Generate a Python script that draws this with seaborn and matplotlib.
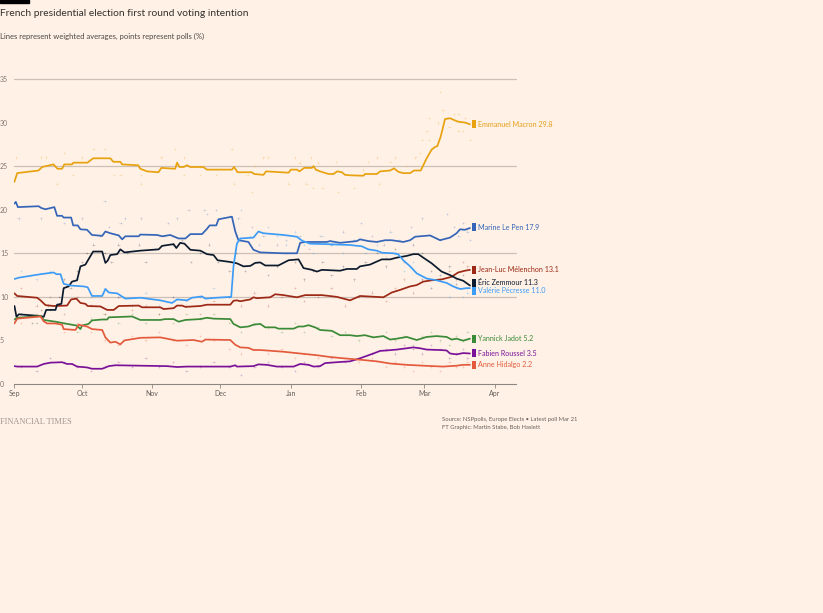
import numpy as np
import pandas as pd
import matplotlib
matplotlib.use("Agg")
import matplotlib.pyplot as plt
import matplotlib.transforms as mtransforms
from matplotlib.patches import Rectangle
import seaborn as sns

# ---------------- data ----------------
START = pd.Timestamp("2021-09-01")  # day 0

candidates = ["Emmanuel Macron", "Marine Le Pen", "Jean-Luc Mélenchon", "Éric Zemmour",
              "Valérie Pécresse", "Yannick Jadot", "Fabien Roussel", "Anne Hidalgo"]
final_values = [29.8, 17.9, 13.1, 11.3, 11.0, 5.2, 3.5, 2.2]
line_colors = ["#e8a20f", "#3465b8", "#9c2816", "#0c1a2e", "#3c9cf7", "#3a8a37", "#7a1299", "#e35a3d"]
label_colors = ["#e3a018", "#3465b8", "#9c2816", "#0c1a2e", "#3c9cf7", "#3a8a37", "#7a1299", "#e35a3d"]
label_y = [29.8, 18.0, 13.1, 11.6, 10.7, 5.2, 3.55, 2.2]   # dodged label positions

# weighted averages: days since 2021-09-01, value (%)
macron_days = [0.2, 1.4, 10.8, 12.4, 17.4, 19.2, 21.2, 22.2, 25.6, 26.2,
               32.4, 34.9, 42.5, 43.8, 46.9, 47.7, 54.8, 55.7, 58.7, 63.7,
               65.0, 71.1, 71.9, 73.0, 74.8, 76.3, 77.8, 83.5, 85.1, 96.1,
               97.1, 98.6, 104.9, 105.9, 110.0, 111.2, 121.1, 122.1, 124.8, 125.9,
               128.0, 131.4, 132.1, 133.1, 135.0, 138.7, 140.9, 142.6, 144.6, 146.0,
               148.2, 154.1, 154.8, 160.0, 161.5, 165.9, 167.6, 169.5, 171.7, 174.7,
               176.4, 179.4, 180.5, 182.0, 184.2, 185.7, 186.7, 188.2, 190.1, 192.3,
               194.0, 195.9, 198.9, 201.1]
macron_avg = [23.2, 24.2, 24.5, 24.9, 25.2, 24.7, 24.7, 25.2, 25.2, 25.4,
              25.4, 25.9, 25.9, 25.5, 25.5, 25.2, 25.1, 24.7, 24.4, 24.3,
              24.8, 24.7, 25.4, 24.9, 24.9, 25.1, 24.9, 24.9, 24.6, 24.6,
              24.9, 24.3, 24.3, 24.1, 24.0, 24.4, 24.25, 24.6, 24.6, 24.4,
              24.8, 24.8, 25.0, 24.6, 24.4, 24.1, 24.1, 24.4, 24.3, 24.0,
              23.95, 23.9, 24.1, 24.1, 24.4, 24.5, 24.75, 24.35, 24.2, 24.2,
              24.5, 24.5, 25.1, 25.9, 26.9, 27.2, 27.3, 28.4, 30.4, 30.5,
              30.3, 30.1, 30.0, 29.8]

lepen_days = [0.2, 0.8, 1.7, 10.9, 12.0, 13.9, 17.8, 19.0, 21.2, 21.9,
              25.2, 26.1, 28.1, 29.3, 32.2, 34.4, 38.9, 40.3, 42.5, 46.2,
              47.7, 49.1, 55.0, 55.7, 63.1, 65.3, 68.9, 72.6, 75.6, 77.8,
              82.9, 85.1, 86.3, 89.2, 90.2, 96.1, 96.8, 97.6, 99.0, 103.4,
              105.6, 108.6, 118.9, 124.8, 126.2, 128.4, 138.0, 139.4, 143.8, 151.2,
              152.6, 156.3, 160.0, 163.7, 166.6, 171.7, 174.7, 176.9, 183.5, 187.9,
              192.3, 195.2, 196.7, 198.9, 201.1]
lepen_avg = [20.7, 20.9, 20.3, 20.4, 20.2, 20.05, 20.3, 19.3, 19.3, 19.1,
             19.1, 18.2, 18.2, 17.75, 17.7, 17.1, 17.0, 17.5, 17.3, 17.05,
             16.6, 16.95, 16.95, 17.15, 17.1, 16.95, 17.1, 16.7, 16.7, 17.2,
             17.2, 17.8, 18.2, 18.2, 18.9, 19.2, 18.4, 17.5, 16.5, 16.3,
             15.4, 15.1, 15.0, 15.0, 16.2, 16.3, 16.3, 16.4, 16.2, 16.4,
             16.6, 16.4, 16.3, 16.5, 16.5, 16.3, 16.5, 16.9, 17.05, 16.5,
             16.8, 17.3, 17.75, 17.7, 17.9]

melenchon_days = [0.2, 1.4, 10.2, 11.7, 13.9, 17.5, 23.4, 25.2, 27.5, 29.3,
                  31.5, 32.5, 38.1, 41.1, 44.0, 46.2, 55.0, 56.5, 64.5, 66.0,
                  70.4, 71.9, 74.1, 75.6, 82.2, 85.1, 95.4, 96.8, 98.3, 99.8,
                  104.2, 105.6, 107.1, 113.0, 115.2, 118.9, 121.1, 124.8, 128.4, 135.8,
                  142.4, 148.2, 152.6, 162.9, 166.6, 170.3, 174.7, 177.6, 180.5, 184.2,
                  188.6, 193.0, 195.9, 198.9, 201.1]
melenchon_avg = [10.4, 10.1, 9.9, 9.6, 9.05, 8.95, 9.0, 9.7, 9.8, 9.3,
                 9.2, 8.95, 8.9, 8.5, 8.5, 8.95, 9.0, 8.8, 8.8, 8.6,
                 8.7, 9.0, 9.0, 8.85, 8.95, 9.1, 9.1, 9.55, 9.6, 9.5,
                 9.7, 9.95, 9.85, 9.95, 10.3, 10.2, 10.1, 9.95, 10.2, 10.2,
                 10.0, 9.6, 10.1, 9.95, 10.5, 10.8, 11.2, 11.35, 11.75, 11.9,
                 12.0, 12.3, 12.8, 13.0, 13.1]

zemmour_days = [0.2, 1.1, 2.1, 11.7, 13.1, 14.2, 18.3, 19.0, 20.9, 21.9,
                24.1, 25.6, 27.8, 29.3, 31.5, 32.5, 34.9, 38.9, 40.3, 41.3,
                42.5, 45.5, 46.9, 48.7, 55.7, 63.8, 65.3, 70.4, 71.6, 73.3,
                75.2, 77.8, 82.2, 85.1, 88.0, 89.8, 95.4, 98.3, 101.2, 104.2,
                106.4, 108.6, 110.8, 116.6, 121.1, 125.5, 127.7, 131.4, 133.6, 135.8,
                143.8, 146.8, 151.2, 152.6, 157.0, 160.0, 162.2, 165.9, 168.8, 173.2,
                176.1, 178.3, 180.5, 184.2, 188.6, 192.3, 195.2, 198.1, 201.1]
zemmour_avg = [8.95, 7.7, 8.0, 7.8, 7.7, 8.5, 8.5, 9.1, 9.2, 11.0,
               11.2, 11.75, 11.9, 13.5, 13.7, 14.15, 15.2, 15.2, 13.9, 14.15,
               14.8, 14.9, 15.45, 15.1, 15.3, 15.45, 15.85, 16.05, 15.6, 16.2,
               16.1, 15.4, 15.3, 14.9, 14.8, 14.2, 14.0, 13.85, 13.5, 13.55,
               13.9, 13.95, 13.6, 13.6, 14.2, 14.3, 13.3, 13.1, 12.9, 13.1,
               13.0, 13.2, 13.2, 13.5, 13.7, 14.05, 14.3, 14.3, 14.5, 14.7,
               14.9, 14.9, 14.5, 13.85, 12.9, 12.5, 12.1, 11.85, 11.3]

pecresse_days = [0.2, 2.1, 11.7, 17.5, 18.7, 20.5, 21.9, 24.9, 30.7, 32.5,
                 34.4, 38.9, 40.3, 41.8, 45.5, 49.1, 55.7, 64.5, 69.7, 71.9,
                 76.3, 78.5, 82.9, 84.4, 89.2, 95.8, 96.8, 98.3, 99.8, 105.6,
                 107.8, 110.0, 118.9, 124.8, 127.0, 130.6, 138.0, 148.2, 153.4, 156.3,
                 160.0, 162.2, 167.3, 169.4, 171.7, 174.7, 177.6, 182.0, 186.4, 190.8,
                 193.7, 196.7, 199.6, 201.1]
pecresse_avg = [12.05, 12.2, 12.6, 12.8, 12.6, 12.6, 11.5, 11.3, 11.2, 11.1,
                10.1, 10.1, 10.9, 10.5, 10.4, 9.8, 9.9, 9.6, 9.3, 9.7,
                9.6, 9.9, 10.05, 9.8, 9.9, 10.0, 13.5, 16.1, 16.7, 16.8,
                17.5, 17.3, 17.1, 16.9, 16.45, 16.1, 16.05, 15.95, 15.8, 15.45,
                15.3, 15.07, 15.0, 14.9, 14.2, 13.5, 12.7, 12.1, 11.9, 11.6,
                11.2, 10.9, 11.0, 11.0]

jadot_days = [0.2, 1.4, 11.7, 13.1, 18.3, 23.4, 27.8, 29.3, 30.0, 32.9,
              34.4, 38.9, 41.1, 41.8, 52.1, 55.7, 64.5, 66.7, 70.4, 72.6,
              75.6, 82.2, 85.1, 88.0, 95.4, 96.8, 99.8, 103.4, 105.6, 108.6,
              110.8, 115.2, 116.6, 123.3, 125.5, 127.7, 129.9, 132.8, 135.0, 140.2,
              143.8, 148.2, 151.2, 154.8, 158.5, 162.9, 165.9, 168.8, 173.2, 177.6,
              182.0, 186.4, 190.8, 193.0, 195.2, 198.1, 201.1]
jadot_avg = [7.4, 7.6, 7.8, 7.35, 7.15, 6.9, 6.7, 6.3, 6.7, 6.9,
             7.3, 7.4, 7.4, 7.65, 7.75, 7.35, 7.35, 7.45, 7.45, 7.15,
             7.35, 7.45, 7.6, 7.5, 7.45, 6.9, 6.5, 6.6, 6.8, 6.9,
             6.5, 6.5, 6.35, 6.35, 6.6, 6.6, 6.75, 6.5, 6.2, 6.1,
             5.6, 5.6, 5.5, 5.6, 5.35, 5.5, 5.1, 5.2, 5.4, 5.05,
             5.4, 5.5, 5.4, 5.1, 5.2, 4.97, 5.2]

roussel_days = [0.2, 1.4, 10.2, 13.1, 16.1, 21.2, 23.4, 25.6, 27.8, 32.2,
                34.4, 38.9, 41.8, 44.7, 67.5, 71.9, 76.3, 95.4, 97.6, 98.3,
                105.6, 107.8, 111.5, 115.9, 123.3, 126.2, 129.9, 132.1, 135.0, 137.2,
                142.4, 148.2, 152.6, 158.5, 161.5, 164.4, 168.8, 173.2, 176.1, 179.1,
                182.0, 187.9, 190.8, 192.3, 195.2, 198.1, 201.1]
roussel_avg = [2.05, 2.0, 2.0, 2.3, 2.45, 2.5, 2.3, 2.3, 2.0, 1.9,
               1.75, 1.75, 2.05, 2.15, 2.05, 1.95, 2.0, 2.0, 2.15, 2.0,
               2.05, 2.25, 2.2, 2.0, 2.0, 2.3, 2.2, 2.0, 2.05, 2.4,
               2.5, 2.6, 2.95, 3.5, 3.8, 3.85, 3.95, 4.1, 4.2, 4.1,
               3.95, 3.9, 3.85, 3.5, 3.4, 3.55, 3.5]

hidalgo_days = [0.2, 1.4, 11.7, 13.1, 14.6, 18.3, 21.2, 21.9, 27.1, 28.5,
                32.2, 34.4, 38.9, 40.3, 42.5, 44.7, 46.9, 48.7, 55.7, 64.5,
                67.5, 71.9, 79.2, 82.9, 84.4, 95.4, 97.6, 99.8, 103.4, 105.6,
                108.6, 118.9, 126.2, 133.6, 139.4, 145.3, 154.1, 160.0, 165.9, 173.2,
                180.5, 189.3, 195.2, 198.1, 201.1]
hidalgo_avg = [6.95, 7.5, 7.75, 7.2, 6.95, 6.95, 6.8, 6.3, 6.2, 6.8,
               6.6, 6.3, 6.2, 5.35, 4.75, 4.85, 4.55, 5.0, 5.3, 5.35,
               5.2, 4.97, 5.05, 4.85, 5.1, 5.05, 4.5, 4.2, 4.15, 3.9,
               3.9, 3.7, 3.5, 3.3, 3.1, 2.95, 2.75, 2.6, 2.35, 2.2,
               2.1, 2.0, 2.1, 2.2, 2.2]

# individual polls: days since 2021-09-01, value (%)
macron_poll_days = [1, 12, 14, 19, 22, 26, 30, 35, 40, 44, 47, 56, 56, 65, 71, 75, 75, 82,
                    89, 96, 97, 103, 105, 106, 110, 112, 121, 124, 126, 129, 131, 132, 134,
                    136, 142, 143, 150, 154, 156, 160, 161, 166, 168, 173, 177, 179, 180,
                    183, 182, 183, 187, 188, 189, 191, 192, 194, 196, 196, 198, 199, 201]
macron_polls = [26.0, 26.0, 26.0, 23.0, 26.5, 24.0, 26.0, 27.0, 27.0, 24.0, 24.0, 24.0, 23.0,
                26.0, 27.0, 26.0, 24.0, 24.0, 24.0, 27.0, 23.0, 24.0, 22.0, 25.0, 26.0, 26.0,
                23.0, 26.0, 25.4, 23.0, 26.0, 22.5, 25.4, 22.5, 25.5, 22.0, 22.5, 24.6, 25.5,
                26.0, 23.0, 25.5, 26.0, 25.0, 26.0, 26.5, 28.0, 28.0, 29.0, 30.5, 30.0, 33.5,
                31.4, 30.5, 29.5, 31.0, 31.0, 29.0, 29.0, 30.5, 28.0]
lepen_poll_days = [2, 12, 22, 30, 40, 42, 47, 49, 56, 68, 72, 77, 84, 85, 89, 99, 105, 110,
                   116, 120, 126, 130, 135, 140, 145, 150, 153, 158, 163, 166, 170, 175, 180,
                   184, 188, 191, 194, 196, 198, 200, 201]
lepen_polls = [19.0, 19.0, 18.5, 19.0, 21.0, 18.0, 18.5, 19.0, 19.0, 18.5, 19.0, 20.0, 20.0,
               19.5, 20.0, 19.0, 18.0, 17.0, 16.0, 16.5, 17.0, 15.5, 17.0, 16.0, 17.5, 16.5,
               18.5, 17.0, 16.0, 17.5, 16.5, 18.0, 19.0, 17.0, 16.5, 19.5, 18.0, 17.0, 18.5,
               17.5, 16.5]
melenchon_poll_days = [3, 10, 16, 22, 28, 34, 40, 46, 52, 58, 64, 70, 76, 82, 88, 95, 100, 106,
                       112, 118, 124, 128, 134, 140, 146, 152, 158, 164, 168, 172, 176, 180,
                       184, 188, 192, 195, 198, 200]
melenchon_polls = [11.0, 9.0, 10.0, 8.0, 10.0, 9.0, 8.0, 10.0, 8.5, 9.0, 8.0, 10.0, 9.0, 8.0,
                   9.5, 10.0, 9.0, 10.5, 9.0, 10.0, 11.0, 9.5, 10.0, 11.0, 9.0, 10.0, 10.5, 9.5,
                   11.0, 12.0, 10.5, 12.0, 11.0, 12.5, 13.0, 12.0, 14.0, 13.5]
zemmour_poll_days = [3, 8, 12, 15, 20, 22, 25, 28, 30, 32, 35, 38, 40, 43, 46, 50, 55, 58, 62,
                     66, 70, 74, 78, 82, 86, 90, 95, 98, 102, 107, 112, 116, 120, 124, 128,
                     132, 136, 140, 145, 150, 155, 160, 164, 168, 172, 176, 180, 184, 188,
                     192, 195, 198, 200]
zemmour_polls = [8.0, 7.0, 8.5, 9.0, 10.0, 12.0, 11.0, 13.0, 14.0, 15.0, 16.0, 17.0, 15.0,
                 14.0, 16.0, 15.0, 16.0, 14.0, 15.5, 17.0, 16.0, 16.5, 14.0, 15.0, 16.0, 14.0,
                 13.0, 15.0, 13.0, 14.0, 12.5, 13.5, 15.0, 14.0, 12.0, 13.0, 14.0, 12.5, 13.5,
                 12.0, 14.0, 15.0, 13.5, 15.5, 14.0, 16.0, 15.0, 13.0, 12.0, 13.5, 11.5, 12.5,
                 11.0]
pecresse_poll_days = [3, 10, 16, 22, 28, 34, 40, 46, 52, 58, 64, 70, 76, 82, 88, 95, 98, 100,
                      104, 108, 112, 116, 120, 124, 128, 132, 136, 140, 145, 150, 155, 160,
                      164, 168, 172, 176, 180, 184, 188, 192, 195, 198, 200]
pecresse_polls = [13.0, 12.0, 13.0, 11.0, 12.0, 10.0, 11.0, 10.0, 9.0, 10.5, 9.0, 10.0, 9.5,
                  10.0, 11.0, 10.0, 17.0, 20.0, 17.0, 16.0, 18.0, 17.0, 16.0, 17.5, 16.0, 15.0,
                  17.0, 16.0, 15.0, 16.5, 15.0, 16.0, 14.5, 15.0, 13.0, 14.0, 12.0, 11.0, 12.5,
                  10.0, 11.0, 10.0, 10.5]
jadot_poll_days = [3, 10, 16, 22, 28, 34, 40, 46, 52, 58, 64, 70, 76, 82, 88, 95, 100, 106,
                   112, 118, 124, 128, 134, 140, 146, 152, 158, 164, 168, 172, 176, 180, 184,
                   188, 192, 195, 198, 200]
jadot_polls = [8.0, 7.0, 8.5, 7.0, 6.0, 7.5, 8.0, 7.0, 8.0, 7.0, 8.0, 7.0, 8.0, 7.5, 8.0, 7.0,
               6.0, 7.0, 6.5, 6.0, 7.0, 6.0, 6.5, 5.5, 6.0, 5.0, 5.5, 6.0, 5.0, 5.5, 4.5, 5.5,
               6.0, 5.0, 4.5, 5.5, 5.0, 6.0]
roussel_poll_days = [3, 10, 16, 22, 28, 34, 40, 46, 52, 58, 64, 70, 76, 82, 88, 95, 100, 106,
                     112, 118, 124, 128, 134, 140, 146, 152, 158, 164, 168, 172, 176, 180, 184,
                     188, 192, 195, 198, 200]
roussel_polls = [2.0, 1.5, 3.0, 2.5, 2.0, 1.5, 2.0, 2.5, 2.0, 3.0, 2.0, 2.5, 1.5, 2.0, 2.5,
                 2.0, 1.0, 2.0, 2.5, 2.0, 1.5, 2.5, 2.0, 3.0, 2.5, 3.0, 3.5, 4.0, 3.5, 4.5,
                 4.0, 3.5, 4.5, 4.0, 3.0, 3.5, 4.0, 3.0]
hidalgo_poll_days = [3, 10, 16, 22, 28, 34, 40, 46, 52, 58, 64, 70, 76, 82, 88, 95, 100, 106,
                     112, 118, 124, 128, 134, 140, 146, 152, 158, 164, 168, 172, 176, 180, 184,
                     188, 192, 195, 198, 200]
hidalgo_polls = [7.0, 8.0, 7.0, 6.0, 7.0, 6.0, 5.0, 4.5, 5.5, 5.0, 6.0, 5.0, 4.5, 5.5, 5.0,
                 4.0, 3.5, 4.0, 3.5, 4.0, 3.0, 3.5, 3.0, 2.5, 3.0, 2.5, 3.0, 2.0, 2.5, 2.0,
                 1.5, 2.5, 2.0, 1.5, 2.5, 2.0, 2.0, 2.5]

month_ticks = ["2021-09-01", "2021-10-01", "2021-11-01", "2021-12-01",
               "2022-01-01", "2022-02-01", "2022-03-01", "2022-04-01"]
month_labels = ["Sep", "Oct", "Nov", "Dec", "Jan", "Feb", "Mar", "Apr"]
ytick_values = [0, 5, 10, 15, 20, 25, 30, 35]
ytick_labels = ["0", "5", "10", "15", "20", "25", "30", "35"]
grid_values = [10, 15, 25, 35]

title = "French presidential election first round voting intention"
subtitle = "Lines represent weighted averages, points represent polls (%)"
source_line1 = "Source: NSPpolls, Europe Elects \u2022 Latest poll Mar 21"
source_line2 = "FT Graphic: Martin Stabe, Bob Haslett"
brand = "FINANCIAL TIMES"

# ---------------- frames ----------------
avg_days = [macron_days, lepen_days, melenchon_days, zemmour_days,
            pecresse_days, jadot_days, roussel_days, hidalgo_days]
avg_vals = [macron_avg, lepen_avg, melenchon_avg, zemmour_avg,
            pecresse_avg, jadot_avg, roussel_avg, hidalgo_avg]
poll_days = [macron_poll_days, lepen_poll_days, melenchon_poll_days, zemmour_poll_days,
             pecresse_poll_days, jadot_poll_days, roussel_poll_days, hidalgo_poll_days]
poll_vals = [macron_polls, lepen_polls, melenchon_polls, zemmour_polls,
             pecresse_polls, jadot_polls, roussel_polls, hidalgo_polls]

def to_dates(days):
    return START + pd.to_timedelta(np.asarray(days, dtype=float), unit="D")

lines_df = pd.concat([
    pd.DataFrame({"candidate": c, "date": to_dates(d), "value": v})
    for c, d, v in zip(candidates, avg_days, avg_vals)], ignore_index=True)
polls_df = pd.concat([
    pd.DataFrame({"candidate": c, "date": to_dates(d), "value": v})
    for c, d, v in zip(candidates, poll_days, poll_vals)], ignore_index=True)

palette = dict(zip(candidates, line_colors))

# ---------------- figure ----------------
BG = "#fff1e5"
sns.set_theme(style="white")
plt.rcParams["font.family"] = ["Lato", "DejaVu Sans"]

W, H = 823, 613
fig = plt.figure(figsize=(W / 100, H / 100), dpi=100, facecolor=BG)
ax = fig.add_axes([14 / W, 1 - 384 / H, (516 - 14) / W, (384 - 79) / H])
ax.set_facecolor(BG)

for v in grid_values:
    ax.axhline(v, color="#cbc1b8", lw=0.9, zorder=0, clip_on=False)

sns.scatterplot(data=polls_df, x="date", y="value", hue="candidate", palette=palette,
                marker="+", s=3, linewidth=0.5, alpha=0.28, legend=False, ax=ax, zorder=1)
sns.lineplot(data=lines_df, x="date", y="value", hue="candidate", palette=palette,
             estimator=None, sort=True, lw=1.25, legend=False, ax=ax, zorder=3)

ax.set_ylim(0, 35)
ax.set_xlim(START, START + pd.Timedelta(days=221.4))
ax.set_xlabel("")
ax.set_ylabel("")

ax.set_xticks(pd.to_datetime(month_ticks))
ax.set_xticklabels(month_labels)
ax.set_yticks(ytick_values)
ax.set_yticklabels(ytick_labels)
for lbl in ax.get_yticklabels():
    lbl.set_ha("left")
ax.tick_params(axis="y", length=0, pad=10.1, labelsize=5, labelcolor="#807973")
ax.tick_params(axis="x", length=3, width=0.6, color="#8e8781", pad=1.5,
               labelsize=5, labelcolor="#66605c", bottom=True)

for s in ["top", "right", "left"]:
    ax.spines[s].set_visible(False)
ax.spines["bottom"].set_color("#8e8781")
ax.spines["bottom"].set_linewidth(0.8)

# end labels
last_dates = [to_dates([d[-1]])[0] for d in avg_days]
mark_tr = mtransforms.offset_copy(ax.transData, fig=fig, x=4, y=0, units="dots")
bar_marker = [(-0.4, -1), (0.4, -1), (0.4, 1), (-0.4, 1), (-0.4, -1)]
for name, val, ly, lc, tc, ld in zip(candidates, final_values, label_y,
                                     line_colors, label_colors, last_dates):
    ax.plot([ld], [ly], marker=bar_marker, ms=6, color=lc, mec=lc, mew=0,
            transform=mark_tr, clip_on=False, zorder=5)
    ax.annotate(f"{name} {val}", xy=(ld, ly), xytext=(8, 0), textcoords="offset pixels",
                va="center", ha="left", fontsize=5.1, color=tc, annotation_clip=False)

# titles & footer
fig.patches.append(Rectangle((0, 1 - 3 / H), 29 / W, 3 / H, transform=fig.transFigure,
                             color="#000000", zorder=10))
fig.text(0, 1 - 13.5 / H, title, fontsize=7.35, color="#33302e", va="center", ha="left")
fig.text(0, 1 - 36 / H, subtitle, fontsize=5.5, color="#4d4845", va="center", ha="left")
fig.text(0, 1 - 422 / H, brand, fontsize=6.0, color="#9e958d", va="center", ha="left",
         family=["Liberation Serif", "DejaVu Serif"])
fig.text(442 / W, 1 - 420 / H, source_line1, fontsize=4.2, color="#66605c",
         va="center", ha="left")
fig.text(442 / W, 1 - 428 / H, source_line2, fontsize=4.2, color="#66605c",
         va="center", ha="left")

fig.savefig("out.png", dpi=100, facecolor=BG)
